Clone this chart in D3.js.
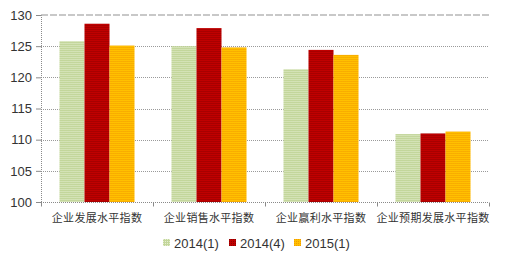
<!DOCTYPE html>
<html>
<head>
<meta charset="utf-8">
<script src="https://cdn.jsdelivr.net/npm/d3@7"></script>
<style>
  body { margin: 0; background: #fff; }
  svg { display: block; }
</style>
</head>
<body>
<div id="wrapper"></div>
<script>
  // data
  const categories = ["企业发展水平指数", "企业销售水平指数", "企业赢利水平指数", "企业预期发展水平指数"]
  const seriesNames = ["2014(1)", "2014(4)", "2015(1)"]
  const values2014q1 = [125.8, 125.0, 121.3, 110.9]
  const values2014q4 = [128.6, 127.9, 124.4, 111.0]
  const values2015q1 = [125.1, 124.8, 123.6, 111.3]
  const yTicks = [100, 105, 110, 115, 120, 125, 130]

  const seriesValues = [values2014q1, values2014q4, values2015q1]
  const colors = [
    { base: "#c3d69b", dot: "#e4eecf" },
    { base: "#c00000", dot: "#8f0000" },
    { base: "#ffc000", dot: "#f29a00" },
  ]

  const dimensions = {
    width: 505,
    height: 264,
    margin: { top: 15, right: 16, bottom: 62, left: 41 },
  }
  dimensions.boundedWidth = dimensions.width - dimensions.margin.left - dimensions.margin.right
  dimensions.boundedHeight = dimensions.height - dimensions.margin.top - dimensions.margin.bottom

  const svg = d3.select("#wrapper").append("svg")
      .attr("width", dimensions.width)
      .attr("height", dimensions.height)

  // dotted fills, like the excel textures
  const defs = svg.append("defs")
  colors.forEach((c, i) => {
    const p = defs.append("pattern")
        .attr("id", "fill" + i)
        .attr("width", 2).attr("height", 2)
        .attr("patternUnits", "userSpaceOnUse")
    p.append("rect").attr("width", 2).attr("height", 2).attr("fill", c.base)
    p.append("rect").attr("width", 1).attr("height", 1).attr("fill", c.dot)
  })

  const bounds = svg.append("g")
      .attr("transform", `translate(${dimensions.margin.left},${dimensions.margin.top})`)

  // scales
  const x0 = d3.scaleBand()
      .domain(categories)
      .range([0, dimensions.boundedWidth])
      .paddingInner(0.33)
      .paddingOuter(0.165)

  const x1 = d3.scaleBand()
      .domain(d3.range(seriesNames.length))
      .range([0, x0.bandwidth()])

  const yScale = d3.scaleLinear()
      .domain([100, 130])
      .range([dimensions.boundedHeight, 0])

  // gridlines
  bounds.append("g")
    .selectAll("line")
    .data(yTicks.filter(d => d > 100 && d < 130))
    .join("line")
      .attr("x1", 0).attr("x2", dimensions.boundedWidth)
      .attr("y1", d => Math.round(yScale(d)) + 0.5)
      .attr("y2", d => Math.round(yScale(d)) + 0.5)
      .attr("stroke", "#9a9a9a")
      .attr("stroke-dasharray", "1,1")

  bounds.append("line")
      .attr("x1", 0).attr("x2", dimensions.boundedWidth)
      .attr("y1", yScale(130)).attr("y2", yScale(130))
      .attr("stroke", "#c8c8c8")
      .attr("stroke-width", 2)
      .attr("stroke-dasharray", "7,2")

  // bars
  const groups = bounds.append("g")
    .selectAll("g")
    .data(categories)
    .join("g")
      .attr("transform", d => `translate(${x0(d)},0)`)

  groups.selectAll("rect")
    .data((d, i) => seriesValues.map((s, j) => ({ series: j, value: s[i] })))
    .join("rect")
      .attr("x", d => x1(d.series))
      .attr("width", x1.bandwidth())
      .attr("y", d => yScale(d.value))
      .attr("height", d => yScale(100) - yScale(d.value))
      .attr("fill", d => `url(#fill${d.series})`)

  // y axis
  const yAxis = bounds.append("g")
      .call(d3.axisLeft(yScale).tickValues(yTicks).tickSize(5).tickPadding(4))
  yAxis.select(".domain")
      .attr("stroke", "#8a8a8a")
      .attr("stroke-dasharray", "1,1")
  yAxis.selectAll(".tick line").attr("stroke", "#8a8a8a")
  yAxis.selectAll("text")
      .attr("fill", "#333")
      .style("font-family", "'Liberation Sans', Arial, sans-serif")
      .style("font-size", "13px")

  // x axis
  const xAxisG = bounds.append("g")
      .attr("transform", `translate(0,${Math.round(dimensions.boundedHeight) + 0.5})`)
  xAxisG.append("line")
      .attr("x1", 0).attr("x2", dimensions.boundedWidth)
      .attr("stroke", "#8a8a8a")
      .attr("stroke-dasharray", "1,1")
  const step = x0.step()
  xAxisG.selectAll(".xtick")
    .data(d3.range(categories.length + 1))
    .join("line")
      .attr("class", "xtick")
      .attr("x1", d => Math.round(d * step) + 0.5)
      .attr("x2", d => Math.round(d * step) + 0.5)
      .attr("y1", 0).attr("y2", 4)
      .attr("stroke", "#8a8a8a")
  xAxisG.selectAll(".xlabel")
    .data(categories)
    .join("text")
      .attr("class", "xlabel")
      .attr("x", d => x0(d) + x0.bandwidth() / 2)
      .attr("y", 19)
      .attr("text-anchor", "middle")
      .attr("fill", "#333")
      .style("font-family", "'Noto Sans CJK SC', sans-serif")
      .style("font-size", "11px")
      .style("letter-spacing", "0.3px")
      .text(d => d)

  // legend
  const legendX = [163, 229, 294]
  const legend = svg.append("g")
    .selectAll("g")
    .data(seriesNames)
    .join("g")
      .attr("transform", (d, i) => `translate(${legendX[i]},239)`)
  legend.append("rect")
      .attr("width", 7).attr("height", 7)
      .attr("fill", (d, i) => `url(#fill${i})`)
  legend.append("text")
      .attr("x", 11)
      .attr("y", 9)
      .attr("fill", "#333")
      .style("font-family", "'Liberation Sans', Arial, sans-serif")
      .style("font-size", "13px")
      .text(d => d)
</script>
</body>
</html>
